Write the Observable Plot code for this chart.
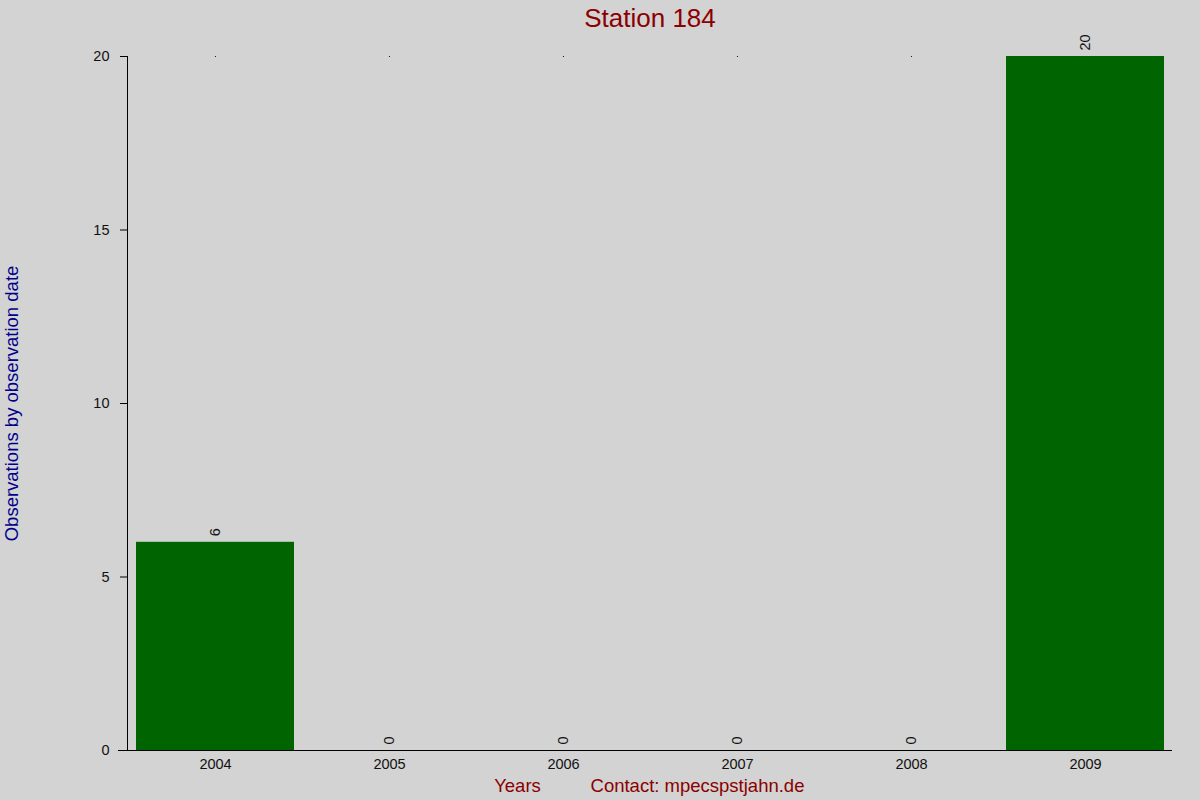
<!DOCTYPE html>
<html>
<head>
<meta charset="utf-8">
<script src="https://cdn.jsdelivr.net/npm/d3@7"></script>
<script src="https://cdn.jsdelivr.net/npm/@observablehq/plot@0.6"></script>
<style>
  html, body { margin: 0; padding: 0; background: #d3d3d3; }
  #chart { width: 1200px; height: 800px; }
</style>
</head>
<body>
<div id="chart"></div>
<script>
const years = ["2004", "2005", "2006", "2007", "2008", "2009"];
const counts = [6, 0, 0, 0, 0, 20];
const yTicks = [0, 5, 10, 15, 20];
const titleText = ["Station 184"];
const yLabelText = ["Observations by observation date"];
const xLabelText = ["Years"];
const contactText = ["Contact: mpecspstjahn.de"];

const data = years.map((y, i) => ({year: y, count: counts[i]}));

let axisLine;
try { axisLine = Plot.frame({anchor: "left", stroke: "black"}); } catch (e) { axisLine = null; }

const marks = [
  Plot.dot(years, {x: d => d, frameAnchor: "top", r: 0.6, fill: "black", stroke: null}),
  Plot.barY(data, {x: "year", y: "count", fill: "#006400"}),
  Plot.ruleY([0], {stroke: "black", insetLeft: -9}),
  Plot.axisY({ticks: yTicks, tickSize: 7, tickFormat: () => "", label: null, stroke: "black"}),
  Plot.text(yTicks, {y: d => d, text: d => String(d), frameAnchor: "left", dx: -18, textAnchor: "end", lineAnchor: "middle", fontSize: 14.5, fill: "#111"}),
  Plot.text(years, {x: d => d, text: d => d, frameAnchor: "bottom", dy: 14, textAnchor: "middle", lineAnchor: "middle", fontSize: 14.5, fill: "#111"}),
  Plot.text(data, {x: "year", y: "count", text: d => String(d.count), rotate: -90, textAnchor: "start", lineAnchor: "middle", dy: -6, fontSize: 14.5, fill: "#111"}),
  Plot.text(titleText, {text: d => d, frameAnchor: "top", dy: -38, fontSize: 26, fill: "#8b0000", lineAnchor: "middle"}),
  Plot.text(yLabelText, {text: d => d, frameAnchor: "left", rotate: -90, dx: -115, fontSize: 18.5, fill: "#00008b", lineAnchor: "middle", textAnchor: "middle"}),
  Plot.text(xLabelText, {text: d => d, frameAnchor: "bottom-left", dx: 390, dy: 36, fontSize: 18.5, fill: "#8b0000", lineAnchor: "middle", textAnchor: "middle"}),
  Plot.text(contactText, {text: d => d, frameAnchor: "bottom-left", dx: 570, dy: 36, fontSize: 18.5, fill: "#8b0000", lineAnchor: "middle", textAnchor: "middle"})
];
if (axisLine) marks.splice(2, 0, axisLine);

const chart = Plot.plot({
  width: 1200,
  height: 800,
  marginLeft: 127,
  marginRight: 28,
  marginTop: 56,
  marginBottom: 50,
  style: {background: "#d3d3d3", fontFamily: "'Liberation Sans', Arial, sans-serif", color: "black", overflow: "visible"},
  x: {type: "band", domain: years, paddingInner: 0.092, paddingOuter: 0.046, axis: null},
  y: {domain: [0, 20]},
  marks
});
document.getElementById("chart").appendChild(chart);
</script>
</body>
</html>
